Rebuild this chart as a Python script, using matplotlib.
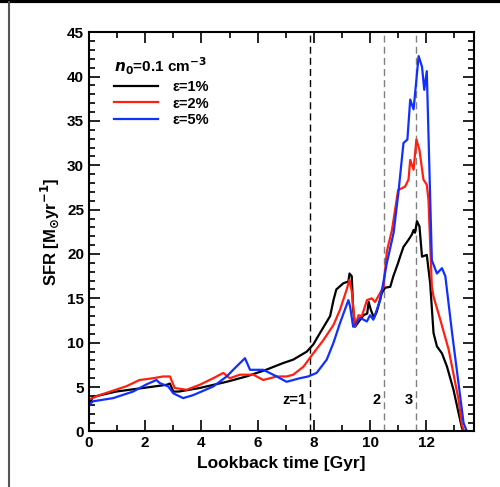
import matplotlib
matplotlib.use('Agg')
import matplotlib.pyplot as plt
from matplotlib.lines import Line2D
from matplotlib.ticker import MultipleLocator

# lookback time [Gyr] and SFR [Msun/yr]
t_1 = [0, 0.14, 0.97, 1.92, 2.76, 2.88, 3.0, 3.2, 3.94, 4.9, 5.6, 6.3, 6.9, 7.27,
       7.75, 7.98, 8.22, 8.58, 8.7, 8.8, 9.05, 9.23, 9.27, 9.35, 9.4, 9.47, 9.65,
       9.77, 9.9, 9.95, 10.03, 10.14, 10.24, 10.42, 10.54, 10.72, 10.83, 11.0,
       11.07, 11.19, 11.37, 11.49, 11.55, 11.6, 11.67, 11.76, 11.85, 12.02, 12.14,
       12.26, 12.38, 12.56, 12.74, 12.97, 13.15, 13.27, 13.33, 13.7]
sfr_1 = [3.0, 3.9, 4.5, 4.9, 5.26, 5.4, 4.5, 4.5, 4.9, 5.6, 6.2, 6.95, 7.7, 8.1,
         9.0, 9.8, 11.1, 13.0, 14.8, 16.0, 16.7, 16.9, 17.8, 17.5, 13.7, 11.8, 12.6,
         13.1, 13.3, 14.6, 13.7, 12.8, 13.5, 15.6, 16.2, 16.3, 17.5, 19.0,
         19.7, 20.8, 21.6, 22.2, 22.7, 22.4, 23.7, 23.1, 19.7, 19.9, 16.7,
         11.1, 9.6, 8.8, 7.3, 4.7, 2.1, 0.4, 0.0, 0.0]

t_2 = [0, 0.38, 1.33, 1.8, 2.28, 2.64, 2.88, 3.05, 3.47, 3.94, 4.42, 4.78, 5.01,
       5.37, 5.85, 6.2, 6.68, 7.03, 7.27, 7.63, 7.98, 8.34, 8.7, 8.93, 9.17, 9.27,
       9.35, 9.47, 9.59, 9.71, 9.89, 10.06, 10.18, 10.36, 10.48, 10.6, 10.78, 11.0,
       11.25, 11.37, 11.43, 11.55, 11.65, 11.76, 11.9, 12.02, 12.08, 12.2, 12.26,
       12.5, 12.8, 13.15, 13.27, 13.35, 13.7]
sfr_2 = [3.6, 4.1, 5.1, 5.8, 6.0, 6.2, 6.2, 4.9, 4.7, 5.26, 6.0, 6.6, 6.0,
         6.4, 6.4, 5.8, 6.2, 6.2, 6.4, 7.3, 8.8, 10.3, 12.0, 13.7, 16.0, 17.1,
         15.8, 11.8, 13.1, 13.0, 14.8, 15.0, 14.6, 15.6, 16.3, 20.3, 22.7, 27.2,
         27.6, 28.4, 30.6, 29.5, 32.9, 31.7, 28.4, 27.8, 26.1, 16.3, 15.2,
         12.6, 9.2, 3.6, 0.75, 0.0, 0.0]

t_5 = [0, 0.14, 0.86, 1.57, 2.04, 2.4, 2.52, 2.82, 3.0, 3.35, 3.71, 4.42, 4.9,
       5.13, 5.55, 5.73, 6.2, 6.68, 7.03, 7.5, 7.8, 8.1, 8.46, 8.7, 8.93, 9.23,
       9.29, 9.4, 9.65, 9.89, 10.0, 10.12, 10.36, 10.6, 10.84, 11.01, 11.19, 11.33,
       11.43, 11.55, 11.73, 11.85, 11.93, 12.02, 12.2, 12.38, 12.56, 12.68, 12.92,
       13.15, 13.33, 13.45, 13.7]
sfr_5 = [3.0, 3.4, 3.76, 4.5, 5.3, 5.8, 5.45, 5.07, 4.3, 3.76, 4.1, 5.07, 6.2,
         6.95, 8.26, 6.95, 6.95, 6.2, 5.6, 6.0, 6.2, 6.6, 8.1, 10.0, 12.2, 14.8,
         14.1, 11.8, 12.8, 12.4, 13.1, 12.6, 14.8, 19.0, 22.4, 26.9, 32.5, 32.9,
         37.4, 36.3, 42.3, 41.1, 38.5, 40.6, 19.3, 17.8, 18.4, 17.5, 11.1,
         5.4, 0.94, 0.0, 0.0]

series_labels = ['ε=1%', 'ε=2%', 'ε=5%']
z_times = [7.85, 10.5, 11.65]
z_labels = ['z=1', '2', '3']

plt.rcParams['font.family'] = ['Liberation Sans', 'DejaVu Sans']
plt.rcParams['font.weight'] = 'bold'

fig = plt.figure(figsize=(5.0, 4.87), dpi=100)
ax = fig.add_axes([0.178, 0.114, 0.770, 0.820])

ax.plot(t_1, sfr_1, color='black', lw=1.6, label=series_labels[0])
ax.plot(t_2, sfr_2, color='#ff2010', lw=1.6, label=series_labels[1])
ax.plot(t_5, sfr_5, color='#1030ff', lw=1.6, label=series_labels[2])

zcols = ['black', 'gray', 'gray']
for zt, zl, zc in zip(z_times, z_labels, zcols):
    ax.axvline(zt, color=zc, ls=(0, (5, 3)), lw=1.0, zorder=0)
    ax.text(zt - 0.12, 3.5, zl, ha='right', va='center', fontsize=10.5,
            fontweight='bold')

ax.set_xlim(0, 13.7)
ax.set_ylim(0, 45)
ax.xaxis.set_major_locator(MultipleLocator(2))
ax.xaxis.set_minor_locator(MultipleLocator(1))
ax.yaxis.set_major_locator(MultipleLocator(5))
ax.yaxis.set_minor_locator(MultipleLocator(1))
ax.tick_params(which='both', direction='in', top=True, right=True, width=1.2,
               labelsize=11)
ax.tick_params(which='major', length=8)
ax.tick_params(which='minor', length=4)
for s in ax.spines.values():
    s.set_linewidth(1.5)

ax.set_xlabel('Lookback time [Gyr]', fontsize=12.5, fontweight='bold')
ax.set_ylabel(r'SFR [M$_{\odot}$yr$^{-1}$]', fontsize=12, fontweight='bold')

leg = ax.legend(loc='upper left', bbox_to_anchor=(0.065, 0.942), frameon=False,
                title=r'$\mathbfit{n}_\mathbf{0}$=0.1 cm$^{-3}$',
                fontsize=10.5, title_fontsize=11, handlelength=3.0,
                handletextpad=1.0, labelspacing=0.2, borderpad=0,
                borderaxespad=0)
leg._legend_box.align = 'left'
leg.get_title().set_fontweight('bold')

# page border bits from the source scan
fig.add_artist(Line2D([0, 1], [0.998, 0.998], color='black', lw=3,
                      transform=fig.transFigure))
fig.add_artist(Line2D([0.018, 0.018], [0, 0.995], color='#555555', lw=1.5,
                      transform=fig.transFigure))

fig.savefig('out.png', dpi=100)
